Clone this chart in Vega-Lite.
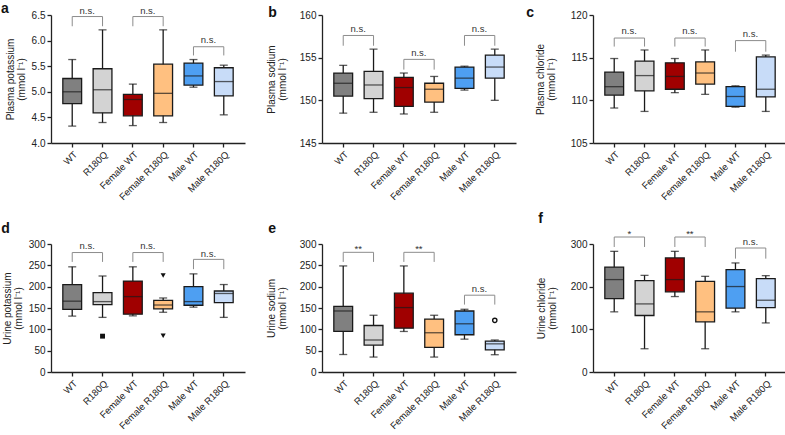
{
"$schema":"https://vega.github.io/schema/vega-lite/v6.json",
"padding":{"left":1,"top":2,"right":2,"bottom":0},
"background":"white",
"datasets":{
"boxes":[
{"p":"a","g":"WT","min":4.33,"q1":4.77,"med":5.0,"q3":5.26,"max":5.63},
{"p":"a","g":"R180Q","min":4.40,"q1":4.59,"med":5.04,"q3":5.45,"max":6.21},
{"p":"a","g":"Female WT","min":4.34,"q1":4.53,"med":4.85,"q3":4.95,"max":5.15},
{"p":"a","g":"Female R180Q","min":4.40,"q1":4.53,"med":4.97,"q3":5.54,"max":6.21},
{"p":"a","g":"Male WT","min":5.09,"q1":5.13,"med":5.31,"q3":5.56,"max":5.63},
{"p":"a","g":"Male R180Q","min":4.55,"q1":4.92,"med":5.20,"q3":5.47,"max":5.52},
{"p":"b","g":"WT","min":148.5,"q1":150.5,"med":152.0,"q3":153.2,"max":154.1},
{"p":"b","g":"R180Q","min":148.6,"q1":150.2,"med":151.8,"q3":153.4,"max":156.0},
{"p":"b","g":"Female WT","min":148.4,"q1":149.3,"med":151.5,"q3":152.7,"max":153.2},
{"p":"b","g":"Female R180Q","min":148.6,"q1":149.8,"med":151.3,"q3":152.0,"max":152.8},
{"p":"b","g":"Male WT","min":151.2,"q1":151.4,"med":152.6,"q3":153.9,"max":154.0},
{"p":"b","g":"Male R180Q","min":150.0,"q1":152.6,"med":153.9,"q3":155.3,"max":156.0},
{"p":"c","g":"WT","min":109.1,"q1":110.6,"med":111.6,"q3":113.3,"max":114.9},
{"p":"c","g":"R180Q","min":108.7,"q1":111.1,"med":112.9,"q3":114.6,"max":115.9},
{"p":"c","g":"Female WT","min":110.9,"q1":111.3,"med":112.8,"q3":114.4,"max":114.9},
{"p":"c","g":"Female R180Q","min":110.7,"q1":111.9,"med":113.2,"q3":114.5,"max":115.9},
{"p":"c","g":"Male WT","min":109.2,"q1":109.3,"med":110.45,"q3":111.6,"max":111.7},
{"p":"c","g":"Male R180Q","min":108.7,"q1":110.4,"med":111.3,"q3":115.1,"max":115.3},
{"p":"d","g":"WT","min":131,"q1":147,"med":166,"q3":205,"max":246.5},
{"p":"d","g":"R180Q","min":128,"q1":158,"med":165,"q3":186,"max":225},
{"p":"d","g":"Female WT","min":131.6,"q1":135.6,"med":176.7,"q3":213,"max":246.5},
{"p":"d","g":"Female R180Q","min":140,"q1":148,"med":157,"q3":168,"max":173.5},
{"p":"d","g":"Male WT","min":152,"q1":156.5,"med":165,"q3":200,"max":230},
{"p":"d","g":"Male R180Q","min":128,"q1":162.8,"med":184,"q3":189.8,"max":205},
{"p":"e","g":"WT","min":41,"q1":95,"med":143,"q3":154,"max":248.6},
{"p":"e","g":"R180Q","min":35,"q1":63,"med":75,"q3":109,"max":133},
{"p":"e","g":"Female WT","min":95,"q1":102.8,"med":151,"q3":184.7,"max":248.6},
{"p":"e","g":"Female R180Q","min":35,"q1":57.7,"med":92,"q3":124,"max":133},
{"p":"e","g":"Male WT","min":77,"q1":87.3,"med":113,"q3":143,"max":147},
{"p":"e","g":"Male R180Q","min":40.5,"q1":52,"med":66,"q3":72.5,"max":75},
{"p":"f","g":"WT","min":141,"q1":172,"med":216.6,"q3":246,"max":282.8},
{"p":"f","g":"R180Q","min":54.5,"q1":132.4,"med":159.6,"q3":214,"max":226.5},
{"p":"f","g":"Female WT","min":176.8,"q1":187.8,"med":216.6,"q3":267.3,"max":282.8},
{"p":"f","g":"Female R180Q","min":54.5,"q1":117.6,"med":141,"q3":212.6,"max":224.2},
{"p":"f","g":"Male WT","min":141,"q1":149.7,"med":200.3,"q3":240,"max":255.6},
{"p":"f","g":"Male R180Q","min":115,"q1":151,"med":168.2,"q3":218.9,"max":225.8}
],
"br":[
{"p":"a","g1":"WT","g2":"R180Q","top":6.47,"end":6.28,"ty":6.57,"label":"n.s."},
{"p":"a","g1":"Female WT","g2":"Female R180Q","top":6.47,"end":6.28,"ty":6.57,"label":"n.s."},
{"p":"a","g1":"Male WT","g2":"Male R180Q","top":5.88,"end":5.71,"ty":6.02,"label":"n.s."},
{"p":"b","g1":"WT","g2":"R180Q","top":157.6,"end":156.4,"ty":158.4,"label":"n.s."},
{"p":"b","g1":"Female WT","g2":"Female R180Q","top":154.8,"end":153.6,"ty":155.6,"label":"n.s."},
{"p":"b","g1":"Male WT","g2":"Male R180Q","top":157.6,"end":156.4,"ty":158.4,"label":"n.s."},
{"p":"c","g1":"WT","g2":"R180Q","top":117.3,"end":116.3,"ty":118.1,"label":"n.s."},
{"p":"c","g1":"Female WT","g2":"Female R180Q","top":117.3,"end":116.3,"ty":118.1,"label":"n.s."},
{"p":"c","g1":"Male WT","g2":"Male R180Q","top":117.0,"end":115.7,"ty":117.8,"label":"n.s."},
{"p":"d","g1":"WT","g2":"R180Q","top":280,"end":258,"ty":295.5,"label":"n.s."},
{"p":"d","g1":"Female WT","g2":"Female R180Q","top":280,"end":258,"ty":295.5,"label":"n.s."},
{"p":"d","g1":"Male WT","g2":"Male R180Q","top":264,"end":241,"ty":277.5,"label":"n.s."},
{"p":"e","g1":"WT","g2":"R180Q","top":280.5,"end":258,"ty":288,"label":"**"},
{"p":"e","g1":"Female WT","g2":"Female R180Q","top":280.5,"end":258,"ty":288,"label":"**"},
{"p":"e","g1":"Male WT","g2":"Male R180Q","top":180,"end":158,"ty":195,"label":"n.s."},
{"p":"f","g1":"WT","g2":"R180Q","top":316.4,"end":293,"ty":323,"label":"*"},
{"p":"f","g1":"Female WT","g2":"Female R180Q","top":316.4,"end":293,"ty":323,"label":"**"},
{"p":"f","g1":"Male WT","g2":"Male R180Q","top":290.6,"end":265.7,"ty":304.7,"label":"n.s."}
],
"out":[
{"p":"d","g":"R180Q","v":84},
{"p":"d","g":"Female R180Q","v":226},
{"p":"d","g":"Female R180Q","v":85},
{"p":"e","g":"Male R180Q","v":121}
]
},
"columns":3,
"bounds":"flush",
"spacing":{"row":101,"column":77},
"concat":[
{"width":194,"height":128,"title":{"text":"a","offset":-10,"dx":-4},
"layer":[
{"data":{"name":"boxes"},"transform":[{"filter":"datum.p==='a'"}],"mark":{"type":"rule","color":"#1a1a1a","strokeWidth":1.3},
"encoding":{"x":{"field":"g","type":"nominal","scale":{"domain":["WT","R180Q","Female WT","Female R180Q","Male WT","Male R180Q"],"paddingInner":0,"paddingOuter":0.2},"axis":{"title":null}},
"y":{"field":"min","type":"quantitative","scale":{"domain":[4,6.5],"nice":false,"zero":false},"axis":{"title":["Plasma potassium","(mmol l⁻¹)"],"values":[4,4.5,5,5.5,6,6.5],"tickCount":6,"labelOverlap":false,"format":".1f"}},"y2":{"field":"max"}}},
{"data":{"name":"boxes"},"transform":[{"filter":"datum.p==='a'"}],"mark":{"type":"tick","size":8},
"encoding":{"x":{"field":"g","type":"nominal"},"y":{"field":"min","type":"quantitative","scale":{"domain":[4,6.5],"nice":false,"zero":false}}}},
{"data":{"name":"boxes"},"transform":[{"filter":"datum.p==='a'"}],"mark":{"type":"tick","size":8},
"encoding":{"x":{"field":"g","type":"nominal"},"y":{"field":"max","type":"quantitative","scale":{"domain":[4,6.5],"nice":false,"zero":false}}}},
{"data":{"name":"boxes"},"transform":[{"filter":"datum.p==='a'"}],"mark":{"type":"bar","stroke":"#1a1a1a","strokeWidth":1.3,"width":{"band":0.62}},
"encoding":{"x":{"field":"g","type":"nominal"},"y":{"field":"q1","type":"quantitative","scale":{"domain":[4,6.5],"nice":false,"zero":false}},"y2":{"field":"q3"},
"fill":{"field":"g","type":"nominal","scale":{"domain":["WT","R180Q","Female WT","Female R180Q","Male WT","Male R180Q"],"range":["#808080","#d3d3d3","#a00000","#ffc080","#4e9ff2","#c8dcf8"]},"legend":null}}},
{"data":{"name":"boxes"},"transform":[{"filter":"datum.p==='a'"}],"mark":{"type":"tick","size":19},
"encoding":{"x":{"field":"g","type":"nominal"},"y":{"field":"med","type":"quantitative","scale":{"domain":[4,6.5],"nice":false,"zero":false}}}},
{"data":{"name":"br"},"transform":[{"filter":"datum.p==='a'"}],"mark":{"type":"rule","color":"#8c8c8c","strokeWidth":1},
"encoding":{"x":{"field":"g1","type":"nominal"},"y":{"field":"top","type":"quantitative","scale":{"domain":[4,6.5],"nice":false,"zero":false}},"y2":{"field":"end"}}},
{"data":{"name":"br"},"transform":[{"filter":"datum.p==='a'"}],"mark":{"type":"rule","color":"#8c8c8c","strokeWidth":1},
"encoding":{"x":{"field":"g2","type":"nominal"},"y":{"field":"top","type":"quantitative","scale":{"domain":[4,6.5],"nice":false,"zero":false}},"y2":{"field":"end"}}},
{"data":{"name":"br"},"transform":[{"filter":"datum.p==='a'"}],"mark":{"type":"rule","color":"#8c8c8c","strokeWidth":1},
"encoding":{"x":{"field":"g1","type":"nominal"},"x2":{"field":"g2"},"y":{"field":"top","type":"quantitative","scale":{"domain":[4,6.5],"nice":false,"zero":false}}}},
{"data":{"name":"br"},"transform":[{"filter":"datum.p==='a'"}],"mark":{"type":"text","dx":15,"fontSize":9.5,"color":"#333","baseline":"middle"},
"encoding":{"x":{"field":"g1","type":"nominal"},"y":{"field":"ty","type":"quantitative","scale":{"domain":[4,6.5],"nice":false,"zero":false}},"text":{"field":"label"}}}
]},
{"width":194,"height":128,"title":{"text":"b","offset":-10,"dx":2},
"layer":[
{"data":{"name":"boxes"},"transform":[{"filter":"datum.p==='b'"}],"mark":{"type":"rule","color":"#1a1a1a","strokeWidth":1.3},
"encoding":{"x":{"field":"g","type":"nominal","scale":{"domain":["WT","R180Q","Female WT","Female R180Q","Male WT","Male R180Q"],"paddingInner":0,"paddingOuter":0.2},"axis":{"title":null}},
"y":{"field":"min","type":"quantitative","scale":{"domain":[145,160],"nice":false,"zero":false},"axis":{"title":["Plasma sodium","(mmol l⁻¹)"],"titlePadding":12,"values":[145,150,155,160],"tickCount":4,"labelOverlap":false}},"y2":{"field":"max"}}},
{"data":{"name":"boxes"},"transform":[{"filter":"datum.p==='b'"}],"mark":{"type":"tick","size":8},
"encoding":{"x":{"field":"g","type":"nominal"},"y":{"field":"min","type":"quantitative","scale":{"domain":[145,160],"nice":false,"zero":false}}}},
{"data":{"name":"boxes"},"transform":[{"filter":"datum.p==='b'"}],"mark":{"type":"tick","size":8},
"encoding":{"x":{"field":"g","type":"nominal"},"y":{"field":"max","type":"quantitative","scale":{"domain":[145,160],"nice":false,"zero":false}}}},
{"data":{"name":"boxes"},"transform":[{"filter":"datum.p==='b'"}],"mark":{"type":"bar","stroke":"#1a1a1a","strokeWidth":1.3,"width":{"band":0.62}},
"encoding":{"x":{"field":"g","type":"nominal"},"y":{"field":"q1","type":"quantitative","scale":{"domain":[145,160],"nice":false,"zero":false}},"y2":{"field":"q3"},
"fill":{"field":"g","type":"nominal","scale":{"domain":["WT","R180Q","Female WT","Female R180Q","Male WT","Male R180Q"],"range":["#808080","#d3d3d3","#a00000","#ffc080","#4e9ff2","#c8dcf8"]},"legend":null}}},
{"data":{"name":"boxes"},"transform":[{"filter":"datum.p==='b'"}],"mark":{"type":"tick","size":19},
"encoding":{"x":{"field":"g","type":"nominal"},"y":{"field":"med","type":"quantitative","scale":{"domain":[145,160],"nice":false,"zero":false}}}},
{"data":{"name":"br"},"transform":[{"filter":"datum.p==='b'"}],"mark":{"type":"rule","color":"#8c8c8c","strokeWidth":1},
"encoding":{"x":{"field":"g1","type":"nominal"},"y":{"field":"top","type":"quantitative","scale":{"domain":[145,160],"nice":false,"zero":false}},"y2":{"field":"end"}}},
{"data":{"name":"br"},"transform":[{"filter":"datum.p==='b'"}],"mark":{"type":"rule","color":"#8c8c8c","strokeWidth":1},
"encoding":{"x":{"field":"g2","type":"nominal"},"y":{"field":"top","type":"quantitative","scale":{"domain":[145,160],"nice":false,"zero":false}},"y2":{"field":"end"}}},
{"data":{"name":"br"},"transform":[{"filter":"datum.p==='b'"}],"mark":{"type":"rule","color":"#8c8c8c","strokeWidth":1},
"encoding":{"x":{"field":"g1","type":"nominal"},"x2":{"field":"g2"},"y":{"field":"top","type":"quantitative","scale":{"domain":[145,160],"nice":false,"zero":false}}}},
{"data":{"name":"br"},"transform":[{"filter":"datum.p==='b'"}],"mark":{"type":"text","dx":15,"fontSize":9.5,"color":"#333","baseline":"middle"},
"encoding":{"x":{"field":"g1","type":"nominal"},"y":{"field":"ty","type":"quantitative","scale":{"domain":[145,160],"nice":false,"zero":false}},"text":{"field":"label"}}}
]},
{"width":194,"height":128,"title":{"text":"c","offset":-10,"dx":-9},
"layer":[
{"data":{"name":"boxes"},"transform":[{"filter":"datum.p==='c'"}],"mark":{"type":"rule","color":"#1a1a1a","strokeWidth":1.3},
"encoding":{"x":{"field":"g","type":"nominal","scale":{"domain":["WT","R180Q","Female WT","Female R180Q","Male WT","Male R180Q"],"paddingInner":0,"paddingOuter":0.2},"axis":{"title":null}},
"y":{"field":"min","type":"quantitative","scale":{"domain":[105,120],"nice":false,"zero":false},"axis":{"title":["Plasma chloride","(mmol l⁻¹)"],"titlePadding":14,"values":[105,110,115,120],"tickCount":4,"labelOverlap":false}},"y2":{"field":"max"}}},
{"data":{"name":"boxes"},"transform":[{"filter":"datum.p==='c'"}],"mark":{"type":"tick","size":8},
"encoding":{"x":{"field":"g","type":"nominal"},"y":{"field":"min","type":"quantitative","scale":{"domain":[105,120],"nice":false,"zero":false}}}},
{"data":{"name":"boxes"},"transform":[{"filter":"datum.p==='c'"}],"mark":{"type":"tick","size":8},
"encoding":{"x":{"field":"g","type":"nominal"},"y":{"field":"max","type":"quantitative","scale":{"domain":[105,120],"nice":false,"zero":false}}}},
{"data":{"name":"boxes"},"transform":[{"filter":"datum.p==='c'"}],"mark":{"type":"bar","stroke":"#1a1a1a","strokeWidth":1.3,"width":{"band":0.62}},
"encoding":{"x":{"field":"g","type":"nominal"},"y":{"field":"q1","type":"quantitative","scale":{"domain":[105,120],"nice":false,"zero":false}},"y2":{"field":"q3"},
"fill":{"field":"g","type":"nominal","scale":{"domain":["WT","R180Q","Female WT","Female R180Q","Male WT","Male R180Q"],"range":["#808080","#d3d3d3","#a00000","#ffc080","#4e9ff2","#c8dcf8"]},"legend":null}}},
{"data":{"name":"boxes"},"transform":[{"filter":"datum.p==='c'"}],"mark":{"type":"tick","size":19},
"encoding":{"x":{"field":"g","type":"nominal"},"y":{"field":"med","type":"quantitative","scale":{"domain":[105,120],"nice":false,"zero":false}}}},
{"data":{"name":"br"},"transform":[{"filter":"datum.p==='c'"}],"mark":{"type":"rule","color":"#8c8c8c","strokeWidth":1},
"encoding":{"x":{"field":"g1","type":"nominal"},"y":{"field":"top","type":"quantitative","scale":{"domain":[105,120],"nice":false,"zero":false}},"y2":{"field":"end"}}},
{"data":{"name":"br"},"transform":[{"filter":"datum.p==='c'"}],"mark":{"type":"rule","color":"#8c8c8c","strokeWidth":1},
"encoding":{"x":{"field":"g2","type":"nominal"},"y":{"field":"top","type":"quantitative","scale":{"domain":[105,120],"nice":false,"zero":false}},"y2":{"field":"end"}}},
{"data":{"name":"br"},"transform":[{"filter":"datum.p==='c'"}],"mark":{"type":"rule","color":"#8c8c8c","strokeWidth":1},
"encoding":{"x":{"field":"g1","type":"nominal"},"x2":{"field":"g2"},"y":{"field":"top","type":"quantitative","scale":{"domain":[105,120],"nice":false,"zero":false}}}},
{"data":{"name":"br"},"transform":[{"filter":"datum.p==='c'"}],"mark":{"type":"text","dx":15,"fontSize":9.5,"color":"#333","baseline":"middle"},
"encoding":{"x":{"field":"g1","type":"nominal"},"y":{"field":"ty","type":"quantitative","scale":{"domain":[105,120],"nice":false,"zero":false}},"text":{"field":"label"}}}
]},
{"width":194,"height":128,"title":{"text":"d","offset":3,"dx":-1},
"layer":[
{"data":{"name":"boxes"},"transform":[{"filter":"datum.p==='d'"}],"mark":{"type":"rule","color":"#1a1a1a","strokeWidth":1.3},
"encoding":{"x":{"field":"g","type":"nominal","scale":{"domain":["WT","R180Q","Female WT","Female R180Q","Male WT","Male R180Q"],"paddingInner":0,"paddingOuter":0.2},"axis":{"title":null}},
"y":{"field":"min","type":"quantitative","scale":{"domain":[0,300],"nice":false,"zero":false},"axis":{"title":["Urine potassium","(mmol l⁻¹)"],"values":[0,50,100,150,200,250,300],"tickCount":7,"labelOverlap":false}},"y2":{"field":"max"}}},
{"data":{"name":"boxes"},"transform":[{"filter":"datum.p==='d'"}],"mark":{"type":"tick","size":8},
"encoding":{"x":{"field":"g","type":"nominal"},"y":{"field":"min","type":"quantitative","scale":{"domain":[0,300],"nice":false,"zero":false}}}},
{"data":{"name":"boxes"},"transform":[{"filter":"datum.p==='d'"}],"mark":{"type":"tick","size":8},
"encoding":{"x":{"field":"g","type":"nominal"},"y":{"field":"max","type":"quantitative","scale":{"domain":[0,300],"nice":false,"zero":false}}}},
{"data":{"name":"boxes"},"transform":[{"filter":"datum.p==='d'"}],"mark":{"type":"bar","stroke":"#1a1a1a","strokeWidth":1.3,"width":{"band":0.62}},
"encoding":{"x":{"field":"g","type":"nominal"},"y":{"field":"q1","type":"quantitative","scale":{"domain":[0,300],"nice":false,"zero":false}},"y2":{"field":"q3"},
"fill":{"field":"g","type":"nominal","scale":{"domain":["WT","R180Q","Female WT","Female R180Q","Male WT","Male R180Q"],"range":["#808080","#d3d3d3","#a00000","#ffc080","#4e9ff2","#c8dcf8"]},"legend":null}}},
{"data":{"name":"boxes"},"transform":[{"filter":"datum.p==='d'"}],"mark":{"type":"tick","size":19},
"encoding":{"x":{"field":"g","type":"nominal"},"y":{"field":"med","type":"quantitative","scale":{"domain":[0,300],"nice":false,"zero":false}}}},
{"data":{"name":"out"},"transform":[{"filter":"datum.p==='d' && datum.g==='R180Q'"}],"mark":{"type":"point","shape":"square","filled":true,"color":"#111","size":24,"opacity":1},
"encoding":{"x":{"field":"g","type":"nominal"},"y":{"field":"v","type":"quantitative","scale":{"domain":[0,300],"nice":false,"zero":false}}}},
{"data":{"name":"out"},"transform":[{"filter":"datum.p==='d' && datum.g==='Female R180Q'"}],"mark":{"type":"point","shape":"triangle-down","filled":true,"color":"#111","size":26,"opacity":1},
"encoding":{"x":{"field":"g","type":"nominal"},"y":{"field":"v","type":"quantitative","scale":{"domain":[0,300],"nice":false,"zero":false}}}},
{"data":{"name":"br"},"transform":[{"filter":"datum.p==='d'"}],"mark":{"type":"rule","color":"#8c8c8c","strokeWidth":1},
"encoding":{"x":{"field":"g1","type":"nominal"},"y":{"field":"top","type":"quantitative","scale":{"domain":[0,300],"nice":false,"zero":false}},"y2":{"field":"end"}}},
{"data":{"name":"br"},"transform":[{"filter":"datum.p==='d'"}],"mark":{"type":"rule","color":"#8c8c8c","strokeWidth":1},
"encoding":{"x":{"field":"g2","type":"nominal"},"y":{"field":"top","type":"quantitative","scale":{"domain":[0,300],"nice":false,"zero":false}},"y2":{"field":"end"}}},
{"data":{"name":"br"},"transform":[{"filter":"datum.p==='d'"}],"mark":{"type":"rule","color":"#8c8c8c","strokeWidth":1},
"encoding":{"x":{"field":"g1","type":"nominal"},"x2":{"field":"g2"},"y":{"field":"top","type":"quantitative","scale":{"domain":[0,300],"nice":false,"zero":false}}}},
{"data":{"name":"br"},"transform":[{"filter":"datum.p==='d'"}],"mark":{"type":"text","dx":15,"fontSize":9.5,"color":"#333","baseline":"middle"},
"encoding":{"x":{"field":"g1","type":"nominal"},"y":{"field":"ty","type":"quantitative","scale":{"domain":[0,300],"nice":false,"zero":false}},"text":{"field":"label"}}}
]},
{"width":194,"height":128,"title":{"text":"e","offset":3,"dx":2},
"layer":[
{"data":{"name":"boxes"},"transform":[{"filter":"datum.p==='e'"}],"mark":{"type":"rule","color":"#1a1a1a","strokeWidth":1.3},
"encoding":{"x":{"field":"g","type":"nominal","scale":{"domain":["WT","R180Q","Female WT","Female R180Q","Male WT","Male R180Q"],"paddingInner":0,"paddingOuter":0.2},"axis":{"title":null}},
"y":{"field":"min","type":"quantitative","scale":{"domain":[0,300],"nice":false,"zero":false},"axis":{"title":["Urine sodium","(mmol l⁻¹)"],"titlePadding":12,"values":[0,50,100,150,200,250,300],"tickCount":7,"labelOverlap":false}},"y2":{"field":"max"}}},
{"data":{"name":"boxes"},"transform":[{"filter":"datum.p==='e'"}],"mark":{"type":"tick","size":8},
"encoding":{"x":{"field":"g","type":"nominal"},"y":{"field":"min","type":"quantitative","scale":{"domain":[0,300],"nice":false,"zero":false}}}},
{"data":{"name":"boxes"},"transform":[{"filter":"datum.p==='e'"}],"mark":{"type":"tick","size":8},
"encoding":{"x":{"field":"g","type":"nominal"},"y":{"field":"max","type":"quantitative","scale":{"domain":[0,300],"nice":false,"zero":false}}}},
{"data":{"name":"boxes"},"transform":[{"filter":"datum.p==='e'"}],"mark":{"type":"bar","stroke":"#1a1a1a","strokeWidth":1.3,"width":{"band":0.62}},
"encoding":{"x":{"field":"g","type":"nominal"},"y":{"field":"q1","type":"quantitative","scale":{"domain":[0,300],"nice":false,"zero":false}},"y2":{"field":"q3"},
"fill":{"field":"g","type":"nominal","scale":{"domain":["WT","R180Q","Female WT","Female R180Q","Male WT","Male R180Q"],"range":["#808080","#d3d3d3","#a00000","#ffc080","#4e9ff2","#c8dcf8"]},"legend":null}}},
{"data":{"name":"boxes"},"transform":[{"filter":"datum.p==='e'"}],"mark":{"type":"tick","size":19},
"encoding":{"x":{"field":"g","type":"nominal"},"y":{"field":"med","type":"quantitative","scale":{"domain":[0,300],"nice":false,"zero":false}}}},
{"data":{"name":"out"},"transform":[{"filter":"datum.p==='e'"}],"mark":{"type":"point","shape":"circle","filled":false,"color":"#111","strokeWidth":1.4,"size":18,"opacity":1},
"encoding":{"x":{"field":"g","type":"nominal"},"y":{"field":"v","type":"quantitative","scale":{"domain":[0,300],"nice":false,"zero":false}}}},
{"data":{"name":"br"},"transform":[{"filter":"datum.p==='e'"}],"mark":{"type":"rule","color":"#8c8c8c","strokeWidth":1},
"encoding":{"x":{"field":"g1","type":"nominal"},"y":{"field":"top","type":"quantitative","scale":{"domain":[0,300],"nice":false,"zero":false}},"y2":{"field":"end"}}},
{"data":{"name":"br"},"transform":[{"filter":"datum.p==='e'"}],"mark":{"type":"rule","color":"#8c8c8c","strokeWidth":1},
"encoding":{"x":{"field":"g2","type":"nominal"},"y":{"field":"top","type":"quantitative","scale":{"domain":[0,300],"nice":false,"zero":false}},"y2":{"field":"end"}}},
{"data":{"name":"br"},"transform":[{"filter":"datum.p==='e'"}],"mark":{"type":"rule","color":"#8c8c8c","strokeWidth":1},
"encoding":{"x":{"field":"g1","type":"nominal"},"x2":{"field":"g2"},"y":{"field":"top","type":"quantitative","scale":{"domain":[0,300],"nice":false,"zero":false}}}},
{"data":{"name":"br"},"transform":[{"filter":"datum.p==='e'"}],"mark":{"type":"text","dx":15,"fontSize":9.5,"color":"#333","baseline":"middle"},
"encoding":{"x":{"field":"g1","type":"nominal"},"y":{"field":"ty","type":"quantitative","scale":{"domain":[0,300],"nice":false,"zero":false}},"text":{"field":"label"}}}
]},
{"width":194,"height":128,"title":{"text":"f","offset":3,"dx":2},
"layer":[
{"data":{"name":"boxes"},"transform":[{"filter":"datum.p==='f'"}],"mark":{"type":"rule","color":"#1a1a1a","strokeWidth":1.3},
"encoding":{"x":{"field":"g","type":"nominal","scale":{"domain":["WT","R180Q","Female WT","Female R180Q","Male WT","Male R180Q"],"paddingInner":0,"paddingOuter":0.2},"axis":{"title":null}},
"y":{"field":"min","type":"quantitative","scale":{"domain":[0,300],"nice":false,"zero":false},"axis":{"title":["Urine chloride","(mmol l⁻¹)"],"titlePadding":13,"values":[0,100,200,300],"tickCount":4,"labelOverlap":false}},"y2":{"field":"max"}}},
{"data":{"name":"boxes"},"transform":[{"filter":"datum.p==='f'"}],"mark":{"type":"tick","size":8},
"encoding":{"x":{"field":"g","type":"nominal"},"y":{"field":"min","type":"quantitative","scale":{"domain":[0,300],"nice":false,"zero":false}}}},
{"data":{"name":"boxes"},"transform":[{"filter":"datum.p==='f'"}],"mark":{"type":"tick","size":8},
"encoding":{"x":{"field":"g","type":"nominal"},"y":{"field":"max","type":"quantitative","scale":{"domain":[0,300],"nice":false,"zero":false}}}},
{"data":{"name":"boxes"},"transform":[{"filter":"datum.p==='f'"}],"mark":{"type":"bar","stroke":"#1a1a1a","strokeWidth":1.3,"width":{"band":0.62}},
"encoding":{"x":{"field":"g","type":"nominal"},"y":{"field":"q1","type":"quantitative","scale":{"domain":[0,300],"nice":false,"zero":false}},"y2":{"field":"q3"},
"fill":{"field":"g","type":"nominal","scale":{"domain":["WT","R180Q","Female WT","Female R180Q","Male WT","Male R180Q"],"range":["#808080","#d3d3d3","#a00000","#ffc080","#4e9ff2","#c8dcf8"]},"legend":null}}},
{"data":{"name":"boxes"},"transform":[{"filter":"datum.p==='f'"}],"mark":{"type":"tick","size":19},
"encoding":{"x":{"field":"g","type":"nominal"},"y":{"field":"med","type":"quantitative","scale":{"domain":[0,300],"nice":false,"zero":false}}}},
{"data":{"name":"br"},"transform":[{"filter":"datum.p==='f'"}],"mark":{"type":"rule","color":"#8c8c8c","strokeWidth":1},
"encoding":{"x":{"field":"g1","type":"nominal"},"y":{"field":"top","type":"quantitative","scale":{"domain":[0,300],"nice":false,"zero":false}},"y2":{"field":"end"}}},
{"data":{"name":"br"},"transform":[{"filter":"datum.p==='f'"}],"mark":{"type":"rule","color":"#8c8c8c","strokeWidth":1},
"encoding":{"x":{"field":"g2","type":"nominal"},"y":{"field":"top","type":"quantitative","scale":{"domain":[0,300],"nice":false,"zero":false}},"y2":{"field":"end"}}},
{"data":{"name":"br"},"transform":[{"filter":"datum.p==='f'"}],"mark":{"type":"rule","color":"#8c8c8c","strokeWidth":1},
"encoding":{"x":{"field":"g1","type":"nominal"},"x2":{"field":"g2"},"y":{"field":"top","type":"quantitative","scale":{"domain":[0,300],"nice":false,"zero":false}}}},
{"data":{"name":"br"},"transform":[{"filter":"datum.p==='f'"}],"mark":{"type":"text","dx":15,"fontSize":9.5,"color":"#333","baseline":"middle"},
"encoding":{"x":{"field":"g1","type":"nominal"},"y":{"field":"ty","type":"quantitative","scale":{"domain":[0,300],"nice":false,"zero":false}},"text":{"field":"label"}}}
]}
],
"config":{
"font":"Liberation Sans",
"view":{"stroke":null},
"axis":{"grid":false,"domainColor":"#222","domainWidth":1.3,"tickColor":"#222","tickWidth":1.3,"tickSize":4,"labelColor":"#222","labelFontSize":10,"labelPadding":2,"labelOverlap":false,"labelBound":false,"titleColor":"#222","titleFontSize":10,"titleFontWeight":"normal","titlePadding":5,"titleLineHeight":11},
"axisX":{"labelAngle":-45,"labelFontSize":9.5,"labelPadding":2},
"title":{"fontSize":14,"fontWeight":"bold","anchor":"start","frame":"bounds","color":"#111"},
"tick":{"color":"#1a1a1a","thickness":1.3},
"text":{"font":"Liberation Sans"}
}
}
